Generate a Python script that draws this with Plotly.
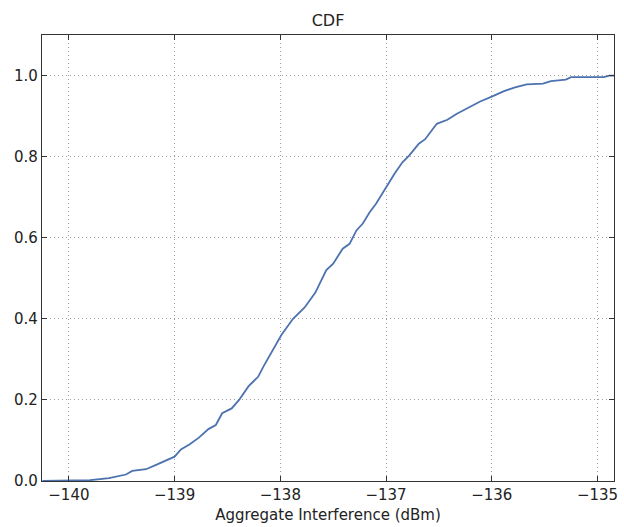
import plotly.graph_objects as go

interference_dbm = [
    -140.25, -139.80, -139.62, -139.46, -139.40, -139.27, -139.18, -139.08,
    -139.00, -138.94, -138.86, -138.77, -138.68, -138.61, -138.55, -138.46,
    -138.39, -138.30, -138.21, -138.16, -138.08, -138.03, -137.99, -137.88,
    -137.77, -137.67, -137.565, -137.50, -137.41, -137.345, -137.28, -137.22,
    -137.155, -137.095, -137.017, -136.92, -136.845, -136.78, -136.69, -136.63,
    -136.52, -136.42, -136.33, -136.22, -136.11, -136.00, -135.89, -135.78,
    -135.67, -135.515, -135.44, -135.30, -135.25, -134.94, -134.89, -134.844,
]
cdf = [
    0.0, 0.002, 0.007, 0.016, 0.025, 0.029, 0.039, 0.050,
    0.060, 0.078, 0.090, 0.107, 0.128, 0.138, 0.167, 0.179,
    0.200, 0.234, 0.257, 0.282, 0.318, 0.339, 0.360, 0.400,
    0.428, 0.464, 0.520, 0.536, 0.573, 0.585, 0.618, 0.635,
    0.663, 0.684, 0.717, 0.758, 0.786, 0.803, 0.832, 0.843,
    0.881, 0.891, 0.906, 0.922, 0.936, 0.948, 0.961, 0.971,
    0.978, 0.980, 0.986, 0.990, 0.996, 0.996, 1.0, 1.0,
]
x_ticks = [-140, -139, -138, -137, -136, -135]
x_tick_labels = ["\u2212140", "\u2212139", "\u2212138", "\u2212137", "\u2212136", "\u2212135"]
y_ticks = [0.0, 0.2, 0.4, 0.6, 0.8, 1.0]
y_tick_labels = ["0.0", "0.2", "0.4", "0.6", "0.8", "1.0"]

fig = go.Figure()
fig.add_trace(go.Scatter(
    x=interference_dbm, y=cdf, mode="lines",
    line=dict(color="#4c72b0", width=1.8),
    showlegend=False,
))

axis_common = dict(
    showline=True, linecolor="#333333", linewidth=1.2, mirror="ticks",
    ticks="inside", ticklen=5, tickwidth=1, tickcolor="#333333",
    showgrid=True, gridcolor="#a0a0a0", griddash="1px,3px", gridwidth=1,
    zeroline=False,
    tickfont=dict(family="DejaVu Sans", size=15, color="#222222"),
)

fig.update_layout(
    width=624, height=527,
    margin=dict(l=42, r=6, t=35, b=45),
    paper_bgcolor="white", plot_bgcolor="white",
    font=dict(family="DejaVu Sans", color="#222222"),
    title=dict(text="CDF", x=0.5, xanchor="center", xref="paper",
               y=1 - 20 / 527, yanchor="middle",
               font=dict(family="DejaVu Sans", size=16, color="#222222")),
    xaxis=dict(range=[-140.254, -134.844], tickvals=x_ticks, ticktext=x_tick_labels,
               title=dict(text="Aggregate Interference (dBm)", standoff=6,
                          font=dict(family="DejaVu Sans", size=15, color="#222222")),
               **axis_common),
    yaxis=dict(range=[0, 1.1], tickvals=y_ticks, ticktext=y_tick_labels,
               **axis_common),
)

fig.write_html("out.html")
